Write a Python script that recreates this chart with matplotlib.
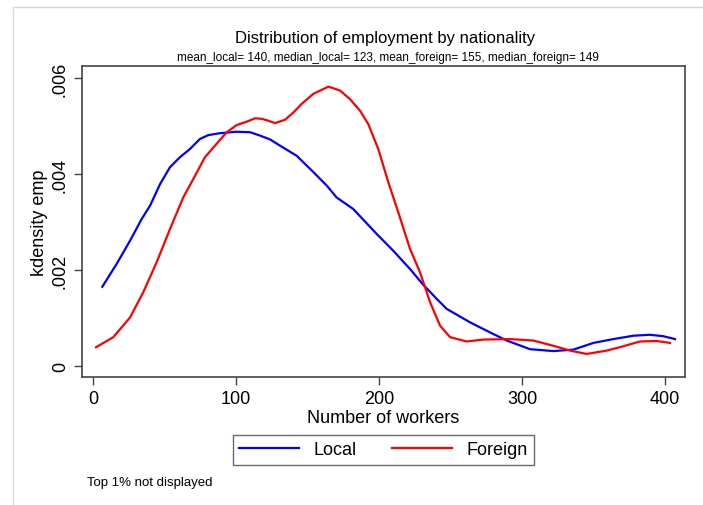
import matplotlib.pyplot as plt
from matplotlib.lines import Line2D

plt.rcParams["font.family"] = ["Liberation Sans", "DejaVu Sans"]

# traced kernel density estimates
local_x = [6.5, 16.6, 25.9, 34.0, 39.9, 46.9, 53.8, 60.8, 67.8, 74.8, 80.6, 88.8,
           100.5, 109.8, 116.8, 123.8, 130.8, 142.4, 154.1, 163.4, 170.4, 182.0,
           198.4, 210.0, 221.7, 231.0, 240.3, 247.3, 263.6, 277.6, 289.3, 305.6,
           321.9, 335.9, 349.9, 363.9, 377.9, 389.5, 398.8, 407.0]
local_y = [0.00165, 0.00213, 0.00261, 0.00306, 0.00334, 0.00379, 0.00414, 0.00435,
           0.00452, 0.00473, 0.00481, 0.00485, 0.00488, 0.00487, 0.00480, 0.00472,
           0.00459, 0.00438, 0.00404, 0.00376, 0.00351, 0.00327, 0.00275, 0.00240,
           0.00202, 0.00169, 0.00140, 0.00119, 0.00091, 0.00070, 0.00053, 0.00035,
           0.00031, 0.00034, 0.00048, 0.00056, 0.00063, 0.00065, 0.00062, 0.00056]

foreign_x = [2.1, 14.2, 25.9, 35.2, 44.5, 53.8, 63.1, 71.3, 78.3, 85.3, 93.5, 100.5,
             107.5, 113.3, 118.0, 122.6, 127.3, 134.3, 140.1, 145.9, 154.1, 164.6,
             172.7, 179.7, 186.7, 192.5, 199.5, 206.5, 213.5, 221.7, 228.7, 235.7,
             242.7, 249.7, 261.3, 273.0, 291.6, 307.9, 321.9, 333.6, 345.2, 359.2,
             370.8, 382.5, 394.2, 403.5]
foreign_y = [0.00039, 0.00060, 0.00101, 0.00154, 0.00216, 0.00285, 0.00351, 0.00396,
             0.00435, 0.00459, 0.00487, 0.00502, 0.00509, 0.00516, 0.00515, 0.00511,
             0.00506, 0.00513, 0.00528, 0.00546, 0.00567, 0.00582, 0.00574, 0.00556,
             0.00532, 0.00504, 0.00452, 0.00383, 0.00320, 0.00244, 0.00195, 0.00133,
             0.00084, 0.00060, 0.00051, 0.00055, 0.00056, 0.00053, 0.00042, 0.00032,
             0.00025, 0.00032, 0.00041, 0.00051, 0.00052, 0.00048]

x_ticks = [0, 100, 200, 300, 400]
y_ticks = [0, 0.002, 0.004, 0.006]
y_tick_labels = ["0", ".002", ".004", ".006"]

fig = plt.figure(figsize=(7.03, 5.06), dpi=100)
ax = fig.add_axes([82 / 703, 1 - 378 / 506, (685 - 82) / 703, (378 - 67) / 506])

ax.plot(local_x, local_y, color="#0000ff", lw=1.6, label="Local")
ax.plot(foreign_x, foreign_y, color="#ff0000", lw=1.6, label="Foreign")

ax.set_xlim(-7.7, 414)
ax.set_ylim(-0.00023, 0.00625)
ax.set_xticks(x_ticks)
ax.set_yticks(y_ticks)
ax.set_yticklabels(y_tick_labels, rotation=90, va="center")
ax.tick_params(labelsize=13, length=6, width=1, color="#444444")
for s in ax.spines.values():
    s.set_color("#444444")
    s.set_linewidth(1.2)

ax.set_xlabel("Number of workers", fontsize=13, labelpad=1)
ax.set_ylabel("kdensity emp", fontsize=13, labelpad=3)

fig.text(385 / 703, 1 - 38 / 506, "Distribution of employment by nationality",
         ha="center", va="center", fontsize=12)
fig.text(388 / 703, 1 - 58 / 506,
         "mean_local= 140, median_local= 123, mean_foreign= 155, median_foreign= 149",
         ha="center", va="center", fontsize=8.5)
fig.text(87 / 703, 1 - 483 / 506, "Top 1% not displayed", ha="left", va="center",
         fontsize=9.5)

leg = fig.legend(loc="center", bbox_to_anchor=(383.5 / 703, 1 - 451 / 506), ncol=2,
                 fontsize=13, frameon=True, fancybox=False, handlelength=3.3,
                 columnspacing=2.0, borderpad=0.35)
leg.get_frame().set_edgecolor("#444444")
leg.get_frame().set_linewidth(1.0)

# light outer frame of the screenshot
fig.add_artist(Line2D([13 / 703, 13 / 703], [0, 1 - 8 / 506], color="#d9d9d9", lw=1))
fig.add_artist(Line2D([13 / 703, 1], [1 - 8 / 506, 1 - 8 / 506], color="#d9d9d9", lw=1))

fig.savefig("out.png", dpi=100)
